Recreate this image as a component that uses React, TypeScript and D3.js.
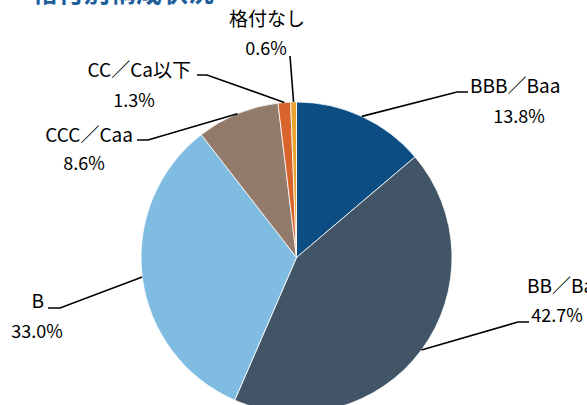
import React, { useEffect, useRef } from "react";
import * as d3 from "d3";

// 格付別構成 (%)
const categories = ["BBB／Baa", "BB／Ba", "B", "CCC／Caa", "CC／Ca以下", "格付なし"];
const shares = [13.8, 42.7, 33.0, 8.6, 1.3, 0.6];
const colors = ["#0c4e84", "#415566", "#80bce2", "#927b6a", "#d8632b", "#eaa42e"];

// where each label sits: elbow of the leader line, end of the short tick, text anchor
const labelLayout = [
  { elbow: [457, 92], tick: [468, 92], name: [470, 93, "start"], pct: [519, 123] },
  { elbow: [518, 322], tick: [529, 322], name: [527, 293, "start"], pct: [557, 322] },
  { elbow: [60, 308], tick: [48, 308], name: [44, 308, "end"], pct: [37, 338] },
  { elbow: [148, 140], tick: [137, 140], name: [133, 142, "end"], pct: [84, 170] },
  { elbow: [207, 75], tick: [197, 75], name: [191, 77, "end"], pct: [134, 107] },
  { elbow: [290, 56], tick: [290, 56], name: [267, 26, "middle"], pct: [266, 55] },
];

const W = 587;
const H = 405;
const cx = 296.5;
const cy = 257.5;
const radius = 155.5;
const font = "'Noto Sans CJK JP', 'Noto Sans', sans-serif";

export default function App() {
  const ref = useRef<SVGSVGElement>(null);

  useEffect(() => {
    const svg = d3.select(ref.current);
    svg.selectAll("*").remove();

    // title, mostly cut off at the top of the frame
    svg.append("text")
      .attr("x", 32)
      .attr("y", 2)
      .attr("font-family", font)
      .attr("font-size", 26)
      .attr("font-weight", "bold")
      .attr("fill", "#1d5e9c")
      .text("格付別構成状況");

    const data = categories.map((c, i) => ({ name: c, value: shares[i], color: colors[i] }));

    const pie = d3.pie<any>().sort(null).value(d => d.value);
    const arc = d3.arc<any>().innerRadius(0).outerRadius(radius);
    const arcs = pie(data);

    const g = svg.append("g").attr("transform", "translate(" + cx + "," + cy + ")");
    g.selectAll("path")
      .data(arcs)
      .enter()
      .append("path")
      .attr("d", arc)
      .attr("fill", d => d.data.color)
      .attr("stroke", "#fff")
      .attr("stroke-width", 0.8);

    const labels = svg.append("g");
    arcs.forEach((a, i) => {
      const lay = labelLayout[i];
      const mid = (a.startAngle + a.endAngle) / 2;
      const px = cx + radius * Math.sin(mid);
      const py = cy - radius * Math.cos(mid);

      labels.append("polyline")
        .attr("points", [[px, py], lay.elbow, lay.tick].map(p => p.join(",")).join(" "))
        .attr("fill", "none")
        .attr("stroke", "#000")
        .attr("stroke-width", 1.6);

      labels.append("text")
        .attr("x", lay.name[0])
        .attr("y", lay.name[1])
        .attr("text-anchor", lay.name[2] as string)
        .attr("font-family", font)
        .attr("font-size", 19)
        .attr("fill", "#000")
        .text(a.data.name);

      labels.append("text")
        .attr("x", lay.pct[0])
        .attr("y", lay.pct[1])
        .attr("text-anchor", "middle")
        .attr("font-family", font)
        .attr("font-size", 18)
        .attr("fill", "#000")
        .text(d3.format(".1f")(a.data.value) + "%");
    });
  }, []);

  return (
    <svg
      ref={ref}
      width={W}
      height={H}
      style={{ position: "absolute", left: 0, top: 0, background: "#fff" }}
    />
  );
}
